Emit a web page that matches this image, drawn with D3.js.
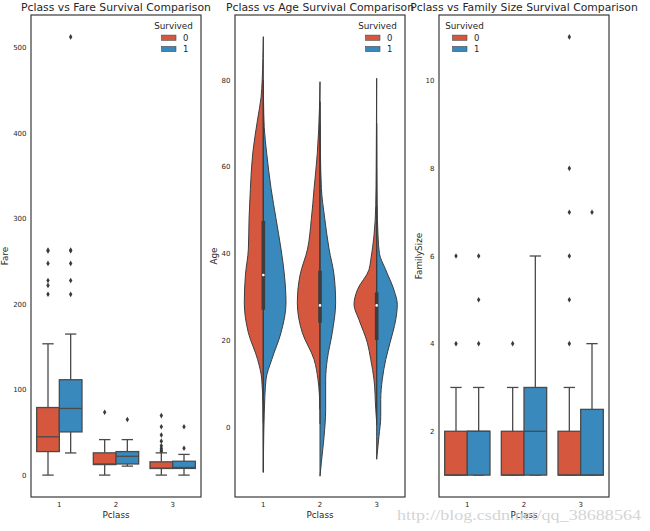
<!DOCTYPE html>
<html>
<head>
<meta charset="utf-8">
<script src="https://cdn.jsdelivr.net/npm/d3@7"></script>
<style>
  html, body { margin: 0; padding: 0; background: #fff; }
  svg { display: block; font-family: "DejaVu Sans", sans-serif; }
</style>
</head>
<body>
<svg id="chart" width="650" height="531"></svg>
<script>
// ---------------- data ----------------
const classes = ["1", "2", "3"];
const survived = ["0", "1"];

const titles = ["Pclass vs Fare Survival Comparison", "Pclass vs Age Survival Comparison", "Pclass vs Family Size Survival Comparison"];
const yLabels = ["Fare", "Age", "FamilySize"];

const fareTicks = [0, 100, 200, 300, 400, 500];
const ageTicks = [0, 20, 40, 60, 80];
const familyTicks = [2, 4, 6, 8, 10];

// box stats per class: [lower whisker, Q1, median, Q3, upper whisker]
const fareStats0 = [[0, 27.5, 44.75, 79, 153.5], [0, 12.3, 13, 26, 41.5], [0, 7.75, 8.05, 15.5, 26]];
const fareStats1 = [[25.9, 50.5, 77.9, 111.5, 164.9], [10.5, 13, 22, 27.5, 41.5], [0, 7.8, 8.9, 16.2, 24.2]];
const fareOutliers0 = [[263, 262, 247.5, 227.5, 221.8, 211.5], [73.5], [69.55, 56.5, 46.9, 39.7, 34.4, 31.3, 29.1, 27.9]];
const fareOutliers1 = [[512.3, 263, 262.4, 247.5, 227.5, 211.3], [65], [56.5, 31.4]];

const familyStats0 = [[1, 1, 1, 2, 3], [1, 1, 1, 2, 3], [1, 1, 1, 2, 3]];
const familyStats1 = [[1, 1, 2, 2, 3], [1, 1, 2, 3, 6], [1, 1, 1, 2.5, 4]];
const familyOutliers0 = [[4, 6], [4], [4, 5, 6, 7, 8, 11]];
const familyOutliers1 = [[4, 5, 6], [], [7]];

// violin half densities (relative) at ages: [age, density]
const ageDensity0 = [
  [[90, 0], [85, 0.02], [80, 0.05], [76, 0.1], [71, 0.25], [63, 0.47], [55, 0.57], [48, 0.63], [41, 0.66], [35, 0.79], [28.6, 0.84], [21.7, 0.66], [15.5, 0.25], [11, 0.07], [5, 0.02], [0, 0.01], [-10.5, 0]],
  [[79.6, 0], [74, 0.02], [63, 0.12], [55, 0.26], [48, 0.38], [41, 0.55], [35, 0.88], [28.6, 1.0], [21.7, 0.78], [15.5, 0.26], [11, 0.09], [4, 0]],
  [[80.4, 0], [70, 0.01], [60, 0.02], [51, 0.04], [44, 0.12], [38.5, 0.26], [36.2, 0.34], [31.6, 0.85], [28.2, 1.0], [24.7, 0.78], [19.4, 0.41], [15.5, 0.26], [11, 0.12], [4, 0.04], [1, 0]]
];
const ageDensity1 = [
  [[80, 0], [72, 0.02], [69, 0.04], [63, 0.15], [55, 0.34], [48, 0.56], [41, 0.78], [35, 0.93], [28.6, 1.0], [21.7, 0.78], [15.5, 0.37], [11, 0.12], [3, 0.04], [-5, 0.01], [-10.5, 0]],
  [[75, 0], [63, 0.02], [55, 0.06], [48, 0.21], [41, 0.4], [35, 0.62], [28.6, 0.69], [21.7, 0.54], [15.5, 0.32], [11, 0.25], [4, 0.25], [-2.2, 0.18], [-8.2, 0.06], [-11.4, 0]],
  [[70, 0], [51.5, 0.02], [44, 0.06], [40, 0.12], [36.2, 0.4], [31.6, 0.76], [28.2, 0.91], [24.7, 0.84], [19.4, 0.59], [15.5, 0.4], [11, 0.25], [6.3, 0.18], [2.4, 0.18], [-2.2, 0.1], [-7.5, 0]]
];
// inner box per class: [whisker low, Q1, median, Q3, whisker high]
const ageInner = [[0.92, 27, 35, 47.5, 80], [0.67, 24, 28, 36, 70], [0.42, 20, 28, 31, 51]];

const watermark = "http://blog.csdn.net/qq_38688564";

// ---------------- style ----------------
const colors = ["#d5573e", "#3a89bd"];
const lineColor = "#4a4a4a";
const textColor = "#262626";
const plotTop = 15, plotBottom = 497;
const panelX = [[31, 201], [235, 405], [439, 609]];

const svg = d3.select("#chart");

function makePanel(i, yScale, ticks, labelOffset, legendSide) {
  const [l, r] = panelX[i];
  const g = svg.append("g");
  const x = d3.scaleBand().domain(classes).range([l, r]).paddingInner(0).paddingOuter(0);
  const hx = d3.scaleBand().domain(survived).range([0, x.bandwidth()]).paddingInner(0).paddingOuter(0.25);

  g.append("text").attr("x", (l + r) / 2).attr("y", 10.5).attr("text-anchor", "middle")
    .attr("font-size", 10.8).attr("fill", textColor).text(titles[i]);

  const yAxis = d3.axisLeft(yScale).tickValues(ticks).tickSize(0).tickPadding(4.5).tickFormat(d3.format("d"));
  const ya = g.append("g").attr("transform", `translate(${l},0)`).call(yAxis);
  ya.select(".domain").remove();
  ya.selectAll("text").attr("font-size", 7).attr("fill", textColor).attr("font-family", "DejaVu Sans");

  const xAxis = d3.axisBottom(x).tickSize(0).tickPadding(5);
  const xa = g.append("g").attr("transform", `translate(0,${plotBottom})`).call(xAxis);
  xa.select(".domain").remove();
  xa.selectAll("text").attr("font-size", 7).attr("fill", textColor).attr("font-family", "DejaVu Sans");

  g.append("text").attr("x", (l + r) / 2).attr("y", 517.5).attr("text-anchor", "middle")
    .attr("font-size", 8.8).attr("fill", textColor).text("Pclass");
  g.append("text").attr("transform", `translate(${l - labelOffset + 3},${(plotTop + plotBottom) / 2}) rotate(-90)`)
    .attr("text-anchor", "middle").attr("font-size", 8.8).attr("fill", textColor).text(yLabels[i]);

  return { g, x, hx, l, r, legendSide };
}

function drawFrame(p) {
  p.g.append("rect").attr("x", p.l).attr("y", plotTop).attr("width", p.r - p.l).attr("height", plotBottom - plotTop)
    .attr("fill", "none").attr("stroke", "#3a3a3a").attr("stroke-width", 1.2);
}

function drawLegend(p) {
  const tx = p.legendSide === "right" ? p.r - 27.5 : p.l + 25.5;
  const lg = p.g.append("g");
  lg.append("text").attr("x", tx).attr("y", 29).attr("text-anchor", "middle")
    .attr("font-size", 8.8).attr("fill", textColor).text("Survived");
  survived.forEach((s, k) => {
    const cy = 37.7 + k * 11.3;
    lg.append("rect").attr("x", tx - 12).attr("y", cy - 2.6).attr("width", 14.5).attr("height", 5.2)
      .attr("fill", colors[k]).attr("stroke", lineColor).attr("stroke-width", 0.6);
    lg.append("text").attr("x", tx + 9.5).attr("y", cy + 3).attr("font-size", 8.5)
      .attr("fill", textColor).text(s);
  });
}

function drawBoxes(p, yScale, stats, outliers) {
  classes.forEach((c, ci) => {
    survived.forEach((s, si) => {
      const st = stats[si][ci];
      const x0 = p.x(c) + p.hx(s);
      const w = p.hx.bandwidth();
      const cx = x0 + w / 2;
      const bg = p.g.append("g");
      bg.append("line").attr("x1", cx).attr("x2", cx).attr("y1", yScale(st[0])).attr("y2", yScale(st[1]))
        .attr("stroke", lineColor).attr("stroke-width", 1.3);
      bg.append("line").attr("x1", cx).attr("x2", cx).attr("y1", yScale(st[3])).attr("y2", yScale(st[4]))
        .attr("stroke", lineColor).attr("stroke-width", 1.3);
      [st[0], st[4]].forEach(v => {
        bg.append("line").attr("x1", cx - w / 4).attr("x2", cx + w / 4).attr("y1", yScale(v)).attr("y2", yScale(v))
          .attr("stroke", lineColor).attr("stroke-width", 1.3);
      });
      bg.append("rect").attr("x", x0).attr("y", yScale(st[3])).attr("width", w)
        .attr("height", Math.max(0, yScale(st[1]) - yScale(st[3])))
        .attr("fill", colors[si]).attr("stroke", lineColor).attr("stroke-width", 1.3);
      bg.append("line").attr("x1", x0).attr("x2", x0 + w).attr("y1", yScale(st[2])).attr("y2", yScale(st[2]))
        .attr("stroke", lineColor).attr("stroke-width", 1.3);
      outliers[si][ci].forEach(v => {
        const y = yScale(v);
        bg.append("path").attr("d", `M${cx},${y - 2.8}L${cx + 1.7},${y}L${cx},${y + 2.8}L${cx - 1.7},${y}Z`)
          .attr("fill", "#3a3a3a");
      });
    });
  });
}

function drawViolins(p, yScale) {
  const half = p.hx.bandwidth();
  const wScale = d3.scaleLinear().domain([0, 1]).range([0, half]);
  classes.forEach((c, ci) => {
    const cx = p.x(c) + p.x.bandwidth() / 2;
    [ageDensity0, ageDensity1].forEach((dens, si) => {
      const pts = dens[ci].slice().sort((a, b) => b[0] - a[0]);
      const sign = si === 0 ? -1 : 1;
      const area = d3.area()
        .y(d => yScale(d[0]))
        .x0(cx)
        .x1(d => cx + sign * wScale(d[1]))
        .curve(d3.curveMonotoneY);
      p.g.append("path").attr("d", area(pts)).attr("fill", colors[si])
        .attr("stroke", "#3d3d3d").attr("stroke-width", 1).attr("stroke-linejoin", "round");
    });
    const inn = ageInner[ci];
    p.g.append("line").attr("x1", cx).attr("x2", cx).attr("y1", yScale(inn[0])).attr("y2", yScale(inn[4]))
      .attr("stroke", "#3d3d3d").attr("stroke-width", 1.1);
    p.g.append("line").attr("x1", cx).attr("x2", cx).attr("y1", yScale(inn[1])).attr("y2", yScale(inn[3]))
      .attr("stroke", "#3d3d3d").attr("stroke-width", 3.6);
    p.g.append("circle").attr("cx", cx).attr("cy", yScale(inn[2])).attr("r", 1.3).attr("fill", "#ffffff");
  });
}

const fareY = d3.scaleLinear().domain([-25.6, 537.9]).range([plotBottom, plotTop]);
const p1 = makePanel(0, fareY, fareTicks, 26, "right");
drawBoxes(p1, fareY, [fareStats0, fareStats1], [fareOutliers0, fareOutliers1]);
drawFrame(p1);
drawLegend(p1);

const ageY = d3.scaleLinear().domain([-16.2, 95]).range([plotBottom, plotTop]);
const p2 = makePanel(1, ageY, ageTicks, 21, "right");
drawViolins(p2, ageY);
drawFrame(p2);
drawLegend(p2);

const famY = d3.scaleLinear().domain([0.5, 11.5]).range([plotBottom, plotTop]);
const p3 = makePanel(2, famY, familyTicks, 20, "left");
drawBoxes(p3, famY, [familyStats0, familyStats1], [familyOutliers0, familyOutliers1]);
drawFrame(p3);
drawLegend(p3);

svg.append("text").attr("x", 397).attr("y", 520).attr("font-family", "Liberation Serif, serif")
  .attr("font-size", 14).attr("fill", "#d4d4d4").attr("textLength", 244).attr("lengthAdjust", "spacingAndGlyphs")
  .text(watermark);
</script>
</body>
</html>
